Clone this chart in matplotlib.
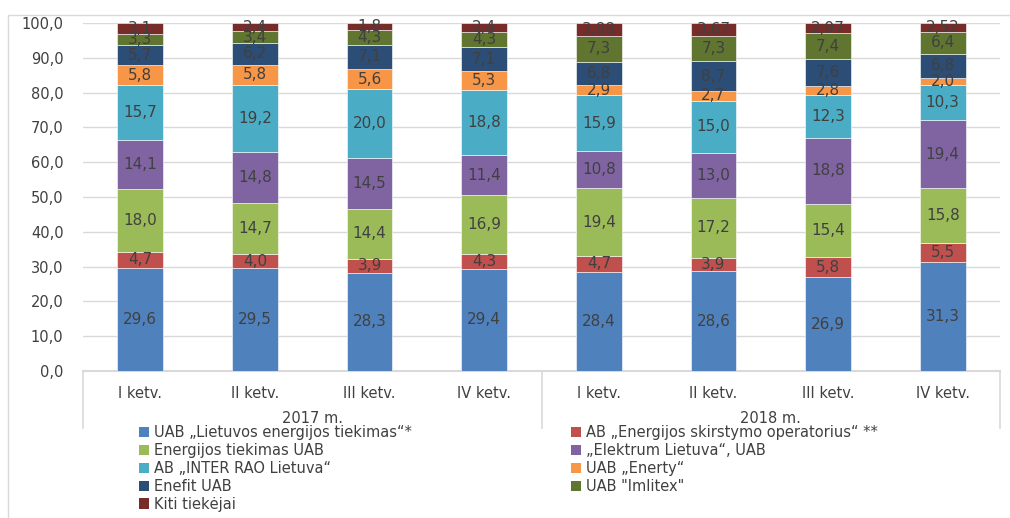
import numpy as np
import matplotlib
matplotlib.use("Agg")
import matplotlib.pyplot as plt
from matplotlib.patches import Patch, Rectangle
from matplotlib.lines import Line2D

plt.rcParams.update({"font.family": "DejaVu Sans", "font.size": 10})

TXT = "#404040"
GRID = "#d9d9d9"

quarters = ["I ketv.", "II ketv.", "III ketv.", "IV ketv."] * 2
years = ["2017 m.", "2018 m."]

suppliers = ["UAB „Lietuvos energijos tiekimas“*",
             "AB „Energijos skirstymo operatorius“ **",
             "Energijos tiekimas UAB",
             "„Elektrum Lietuva“, UAB",
             "AB „INTER RAO Lietuva“",
             "UAB „Enerty“",
             "Enefit UAB",
             "UAB \"Imlitex\"",
             "Kiti tiekėjai"]
colors = ["#4f81bd", "#c0504d", "#9bbb59", "#8064a2", "#4bacc6",
          "#f79646", "#2c4d75", "#5f7530", "#772c2a"]

let_vals = [29.6, 29.5, 28.3, 29.4, 28.4, 28.6, 26.9, 31.3]
eso_vals = [4.7, 4.0, 3.9, 4.3, 4.7, 3.9, 5.8, 5.5]
et_vals = [18.0, 14.7, 14.4, 16.9, 19.4, 17.2, 15.4, 15.8]
elektrum_vals = [14.1, 14.8, 14.5, 11.4, 10.8, 13.0, 18.8, 19.4]
interrao_vals = [15.7, 19.2, 20.0, 18.8, 15.9, 15.0, 12.3, 10.3]
enerty_vals = [5.8, 5.8, 5.6, 5.3, 2.9, 2.7, 2.8, 2.0]
enefit_vals = [5.7, 6.2, 7.1, 7.1, 6.8, 8.7, 7.6, 6.8]
imlitex_vals = [3.3, 3.4, 4.3, 4.3, 7.3, 7.3, 7.4, 6.4]
kiti_vals = [3.1, 2.4, 1.8, 2.4, 3.88, 3.67, 2.97, 2.52]

series = [let_vals, eso_vals, et_vals, elektrum_vals, interrao_vals,
          enerty_vals, enefit_vals, imlitex_vals, kiti_vals]

W, H = 1010, 518
fig = plt.figure(figsize=(W / 100, H / 100), dpi=100)
# axes box in pixels: x 83..1000, y 23..371
ax = fig.add_axes([83 / W, 1 - 371 / H, (1000 - 83) / W, (371 - 23) / H])

x = np.arange(len(quarters))
bottom = np.zeros(len(quarters))
for name, vals, col in zip(suppliers, series, colors):
    vals = np.array(vals)
    ax.bar(x, vals, bottom=bottom, width=0.4, color=col, edgecolor="white",
           linewidth=0.4, zorder=3)
    for xi, b, v in zip(x, bottom, vals):
        ax.text(xi, b + v / 2, str(v).replace(".", ","), ha="center",
                va="center", fontsize=11, color=TXT, zorder=4)
    bottom += vals

ax.set_xlim(-0.5, len(quarters) - 0.5)
ax.set_ylim(0, 100)
ax.set_yticks(np.arange(0, 101, 10))
ax.set_yticklabels([f"{v:.1f}".replace(".", ",") for v in np.arange(0, 101, 10)],
                   fontsize=10.5, color=TXT)
ax.yaxis.grid(True, color=GRID, lw=1.0, zorder=0)
ax.tick_params(axis="y", length=0, pad=14)
ax.tick_params(axis="x", length=0, pad=11)
ax.set_xticks(x)
ax.set_xticklabels(quarters, fontsize=10.5, color=TXT)
for s in ("top", "right", "left"):
    ax.spines[s].set_visible(False)
ax.spines["bottom"].set_color(GRID)
ax.spines["bottom"].set_linewidth(1.5)

# group separators and year labels below the axis
for xp in (-0.5, 3.5, 7.5):
    ax.add_line(Line2D([xp, xp], [0, -16.4], color=GRID, lw=1.2,
                       clip_on=False))
for i, yr in enumerate(years):
    ax.text(1.5 + 4 * i, -13.6, yr, ha="center", va="center",
            fontsize=10.5, color=TXT)

# chart area frame
fig.patches.append(Rectangle((8 / W, -0.05), 1.1, 1 - 15 / H + 0.05,
                             transform=fig.transFigure, fill=False,
                             edgecolor="#d9d9d9", lw=1.0))

handles = [Patch(facecolor=c) for c in colors]
left_idx = [0, 2, 4, 6, 8]
right_idx = [1, 3, 5, 7]
kw = dict(frameon=False, fontsize=10.5, handlelength=0.7, handleheight=0.7,
          handletextpad=0.3, labelspacing=0.2, borderpad=0, borderaxespad=0,
          labelcolor=TXT)
fig.legend([handles[i] for i in left_idx], [suppliers[i] for i in left_idx],
           loc="upper left", bbox_to_anchor=(139 / W, 1 - 425 / H), **kw)
fig.legend([handles[i] for i in right_idx], [suppliers[i] for i in right_idx],
           loc="upper left", bbox_to_anchor=(571 / W, 1 - 425 / H), **kw)

fig.savefig("out.png", dpi=100)
